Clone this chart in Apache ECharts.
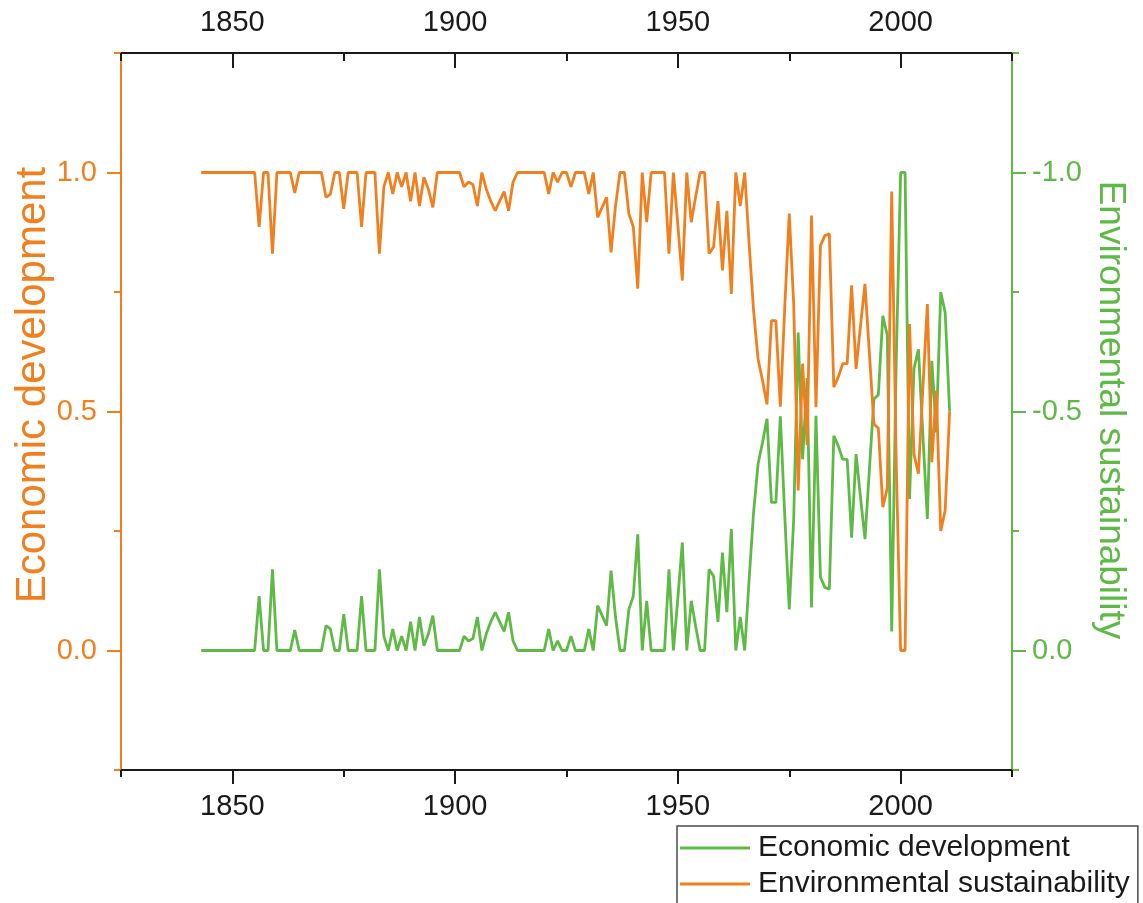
<!DOCTYPE html>
<html>
<head>
<meta charset="utf-8">
<script src="https://cdn.jsdelivr.net/npm/echarts@6/dist/echarts.min.js"></script>
<style>
  html, body { margin: 0; padding: 0; background: #ffffff; }
  #chart { width: 1143px; height: 903px; }
</style>
</head>
<body>
<div id="chart"></div>
<script>
// Annual series, one value per year starting at FIRST_YEAR.
const FIRST_YEAR = 1843;

// Environmental sustainability (left axis, 0..1), rows by decade.
const environmental = [
  1, 1, 1, 1, 1, 1, 1,                                              // 1843-1849
  1, 1, 1, 1, 1, 1, 0.886, 1, 1, 0.83,                              // 1850s
  1, 1, 1, 1, 0.957, 1, 1, 1, 1, 1,                                 // 1860s
  1, 0.948, 0.955, 1, 1, 0.924, 1, 1, 1, 0.886,                     // 1870s
  1, 1, 1, 0.83, 0.97, 1, 0.955, 1, 0.97, 1,                        // 1880s
  0.94, 1, 0.93, 0.99, 0.965, 0.927, 1, 1, 1, 1,                    // 1890s
  1, 1, 0.97, 0.98, 0.975, 0.93, 1, 0.965, 0.94, 0.92,              // 1900s
  0.94, 0.96, 0.92, 0.98, 1, 1, 1, 1, 1, 1,                         // 1910s
  1, 0.955, 1, 0.98, 1, 1, 0.97, 1, 1, 1,                           // 1920s
  0.955, 1, 0.906, 0.927, 0.948, 0.833, 0.93, 1, 1, 0.914,          // 1930s
  0.886, 0.757, 1, 0.896, 1, 1, 1, 1, 0.83, 1,                      // 1940s
  0.89, 0.774, 1, 0.896, 0.95, 1, 1, 0.83, 0.844, 0.94,             // 1950s
  0.795, 0.92, 0.746, 1, 0.93, 1, 0.85, 0.71, 0.61, 0.565,          // 1960s
  0.515, 0.69, 0.69, 0.51, 0.72, 0.914, 0.725, 0.335, 0.60, 0.43,   // 1970s
  0.91, 0.509, 0.847, 0.868, 0.872, 0.551, 0.572, 0.60, 0.60, 0.764,// 1980s
  0.589, 0.68, 0.767, 0.62, 0.474, 0.465, 0.30, 0.34, 0.96, 0.40,   // 1990s
  0, 0, 0.683, 0.41, 0.37, 0.55, 0.725, 0.394, 0.544, 0.25,         // 2000s
  0.293, 0.5                                                        // 2010-2011
];

// Economic development (right axis, inverted, 0..-1), rows by decade.
const economic = [
  0, 0, 0, 0, 0, 0, 0,                                              // 1843-1849
  0, 0, 0, 0, 0, 0, -0.114, 0, 0, -0.17,                            // 1850s
  0, 0, 0, 0, -0.043, 0, 0, 0, 0, 0,                                // 1860s
  0, -0.052, -0.045, 0, 0, -0.076, 0, 0, 0, -0.114,                 // 1870s
  0, 0, 0, -0.17, -0.03, 0, -0.045, 0, -0.03, 0,                    // 1880s
  -0.06, 0, -0.07, -0.01, -0.035, -0.073, 0, 0, 0, 0,               // 1890s
  0, 0, -0.03, -0.02, -0.025, -0.07, 0, -0.035, -0.06, -0.08,       // 1900s
  -0.06, -0.04, -0.08, -0.02, 0, 0, 0, 0, 0, 0,                     // 1910s
  0, -0.045, 0, -0.02, 0, 0, -0.03, 0, 0, 0,                        // 1920s
  -0.045, 0, -0.094, -0.073, -0.052, -0.167, -0.07, 0, 0, -0.086,   // 1930s
  -0.114, -0.243, 0, -0.104, 0, 0, 0, 0, -0.17, 0,                  // 1940s
  -0.11, -0.226, 0, -0.104, -0.05, 0, 0, -0.17, -0.156, -0.06,      // 1950s
  -0.205, -0.08, -0.254, 0, -0.07, 0, -0.15, -0.29, -0.39, -0.435,  // 1960s
  -0.485, -0.31, -0.31, -0.49, -0.28, -0.086, -0.275, -0.665, -0.40, -0.57, // 1970s
  -0.09, -0.491, -0.153, -0.132, -0.128, -0.449, -0.428, -0.40, -0.40, -0.236, // 1980s
  -0.411, -0.32, -0.233, -0.38, -0.526, -0.535, -0.70, -0.66, -0.04, -0.60, // 1990s
  -1, -1, -0.317, -0.59, -0.63, -0.45, -0.275, -0.606, -0.456, -0.75, // 2000s
  -0.707, -0.5                                                      // 2010-2011
];

// Tick positions and labels
const xMajorTicks = [1850, 1900, 1950, 2000];
const xMinorTicks = [1825, 1875, 1925, 1975, 2025];
const leftMajorTicks = [0, 0.5, 1];
const leftMinorTicks = [-0.25, 0.25, 0.75, 1.25];
const rightMajorTicks = [-1, -0.5, 0];
const rightMinorTicks = [-1.25, -0.75, -0.25, 0.25];

const seriesNames = ['Economic development', 'Environmental sustainability'];
const leftAxisTitle = 'Economic development';
const rightAxisTitle = 'Environmental sustainability';

const ORANGE = '#F27F1E';
const GREEN = '#5EBA45';
const INK = '#1a1a1a';
const FONT = '"Liberation Sans", Arial, Helvetica, sans-serif';

const years = environmental.map((_, i) => FIRST_YEAR + i);
const envPoints = years.map((y, i) => [y, environmental[i]]);
const ecoPoints = years.map((y, i) => [y, economic[i]]);

const fmt1 = v => Number(v).toFixed(1);
const fmtYear = v => String(Math.round(v));

function xAxisDef(position, inside, ticks, len, labels, margin) {
  return {
    type: 'value', position: position, min: 1825, max: 2025, interval: 25,
    axisLine: { show: labels, onZero: false, lineStyle: { color: INK, width: 2 } },
    axisTick: { show: true, inside: inside, customValues: ticks, length: len,
                lineStyle: { color: INK, width: 2 } },
    axisLabel: labels ? { show: true, customValues: xMajorTicks, formatter: fmtYear, margin: margin,
                          color: INK, fontSize: 29, fontFamily: FONT } : { show: false },
    splitLine: { show: false }
  };
}

function yAxisDef(position, color, min, max, inverse, ticks, len, labelTicks, margin) {
  return {
    type: 'value', position: position, min: min, max: max, interval: 0.25, inverse: inverse,
    axisLine: { show: !!labelTicks, onZero: false, lineStyle: { color: color, width: 2 } },
    axisTick: { show: true, customValues: ticks, length: len, lineStyle: { color: color, width: 2 } },
    axisLabel: labelTicks ? { show: true, customValues: labelTicks, formatter: fmt1, margin: margin,
                              color: color, fontSize: 29, fontFamily: FONT } : { show: false },
    splitLine: { show: false }
  };
}

const chart = echarts.init(document.getElementById('chart'), null, { renderer: 'canvas' });

chart.setOption({
  animation: false,
  backgroundColor: '#ffffff',
  grid: { left: 121, right: 131, top: 53, bottom: 133, containLabel: false },
  xAxis: [
    xAxisDef('bottom', false, xMajorTicks, 14, true, 22),
    xAxisDef('bottom', false, xMinorTicks, 7, false, 0),
    xAxisDef('top', true, xMajorTicks, 15, true, 16),
    xAxisDef('top', true, xMinorTicks, 8, false, 0)
  ],
  yAxis: [
    yAxisDef('left', ORANGE, -0.25, 1.25, false, leftMajorTicks, 14, leftMajorTicks, 24),
    yAxisDef('right', GREEN, -1.25, 0.25, true, rightMajorTicks, 14, rightMajorTicks, 20),
    yAxisDef('left', ORANGE, -0.25, 1.25, false, leftMinorTicks, 7, null, 0),
    yAxisDef('right', GREEN, -1.25, 0.25, true, rightMinorTicks, 7, null, 0)
  ],
  legend: {
    left: 677, top: 826, width: 470, height: 200, orient: 'vertical',
    icon: 'rect', itemWidth: 70, itemHeight: 3, itemGap: 0,
    padding: [4, 8, 20, 3],
    borderColor: '#4a4a4a', borderWidth: 1.5,
    selectedMode: false,
    textStyle: { fontSize: 30, lineHeight: 36, color: INK, fontFamily: FONT, padding: [0, 0, 0, 3] },
    data: seriesNames
  },
  graphic: [
    {
      type: 'text', x: 33, y: 385, rotation: Math.PI / 2,
      style: { text: leftAxisTitle, fill: ORANGE, font: '42px ' + FONT,
               align: 'center', verticalAlign: 'middle' }
    },
    {
      type: 'text', x: 1110, y: 410, rotation: -Math.PI / 2,
      style: { text: rightAxisTitle, fill: GREEN, font: '37px ' + FONT,
               align: 'center', verticalAlign: 'middle' }
    }
  ],
  series: [
    {
      name: seriesNames[0], type: 'line', xAxisIndex: 0, yAxisIndex: 1,
      data: ecoPoints, showSymbol: false, symbol: 'none',
      lineStyle: { color: GREEN, width: 2.8 }, itemStyle: { color: GREEN }
    },
    {
      name: seriesNames[1], type: 'line', xAxisIndex: 0, yAxisIndex: 0,
      data: envPoints, showSymbol: false, symbol: 'none',
      lineStyle: { color: ORANGE, width: 2.8 }, itemStyle: { color: ORANGE }
    }
  ]
});
</script>
</body>
</html>
